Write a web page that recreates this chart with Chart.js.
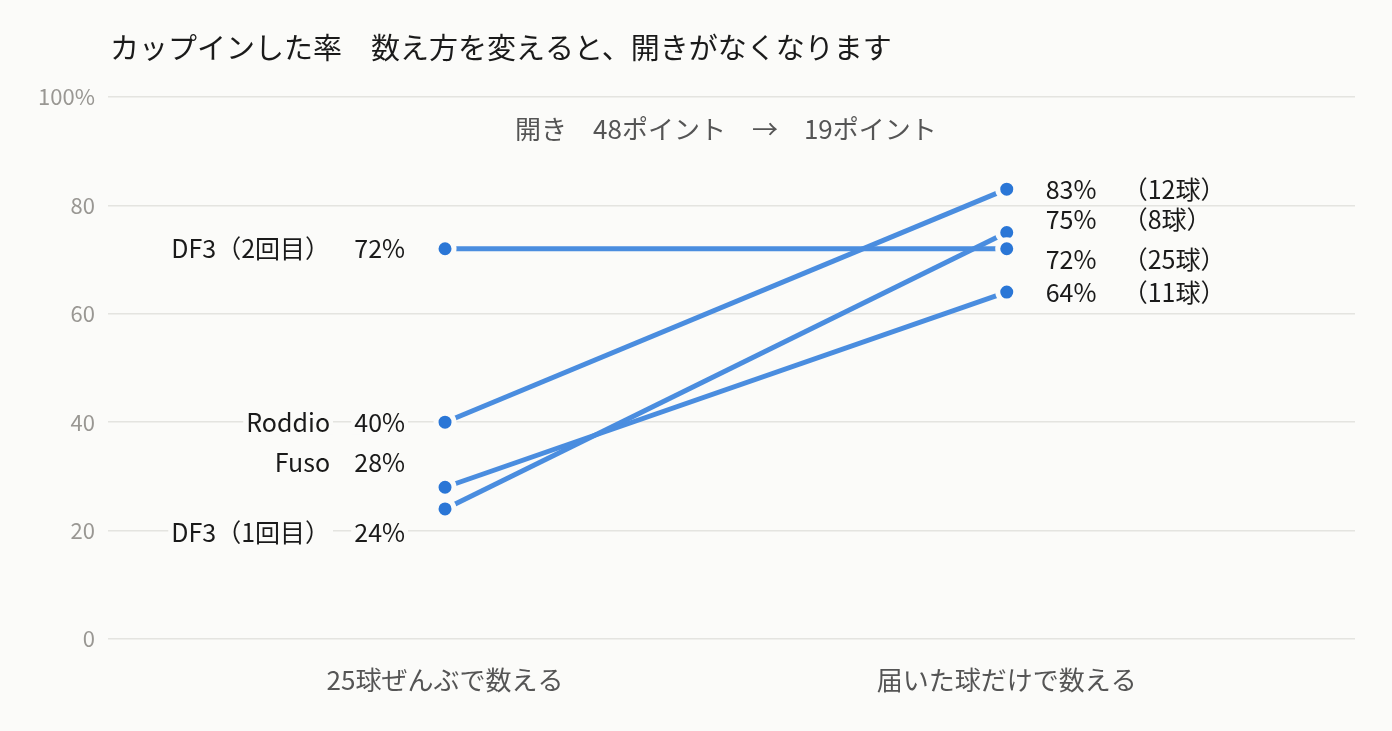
<!DOCTYPE html>
<html>
<head>
<meta charset="utf-8">
<script src="https://cdn.jsdelivr.net/npm/chart.js@4"></script>
<style>
  html, body { margin: 0; padding: 0; background: #fbfbf9; }
  #wrap { width: 1392px; height: 731px; position: relative; }
</style>
</head>
<body>
<div id="wrap"><canvas id="chart"></canvas></div>
<script>
// data
const categories = ['25球ぜんぶで数える', '届いた球だけで数える'];
const clubs = ['DF3（2回目）', 'Roddio', 'Fuso', 'DF3（1回目）'];
const rateAll = [72, 40, 28, 24];
const rateReached = [72, 83, 64, 75];
const ballsReached = [25, 12, 11, 8];
const yTicks = [0, 20, 40, 60, 80, 100];
const titleText = 'カップインした率　数え方を変えると、開きがなくなります';
const gapText = '開き　48ポイント　→　19ポイント';

// label nudges (px) so the texts don't overlap
const leftShift = [0, 0, -25, 24];
const rightShift = [11, 0, 0, -13];

const BG = '#fbfbf9';
const FONT = '"Noto Sans CJK JP", "Noto Sans", sans-serif';

const datasets = clubs.map((name, i) => ({
    label: name,
    data: [{ x: 0, y: rateAll[i] }, { x: 1, y: rateReached[i] }],
    borderColor: '#4a8ddf',
    borderWidth: 5,
    pointRadius: 9,
    pointHoverRadius: 9,
    pointBackgroundColor: '#2a76d6',
    pointBorderColor: BG,
    pointBorderWidth: 5,
    tension: 0
}));

function labelWithBox(ctx, text, x, y, align) {
    ctx.textAlign = align;
    const w = ctx.measureText(text).width;
    const x0 = align === 'right' ? x - w : x;
    ctx.fillStyle = BG;
    ctx.fillRect(x0 - 3, y - 12, w + 6, 24);
    ctx.fillStyle = '#1a1a1a';
    ctx.fillText(text, x, y);
}

const textPlugin = {
    id: 'texts',
    beforeDraw(chart) {
        const ctx = chart.ctx;
        ctx.save();
        ctx.fillStyle = BG;
        ctx.fillRect(0, 0, chart.width, chart.height);
        ctx.restore();
    },
    afterDraw(chart) {
        const ctx = chart.ctx;
        const xs = chart.scales.x, ys = chart.scales.y;
        ctx.save();
        ctx.textBaseline = 'middle';

        // title
        ctx.font = '29px ' + FONT;
        ctx.fillStyle = '#1a1a1a';
        ctx.textAlign = 'left';
        ctx.fillText(titleText, 110, 48);

        // gap note
        ctx.font = '26px ' + FONT;
        ctx.fillStyle = '#555555';
        ctx.textAlign = 'center';
        ctx.fillText(gapText, xs.getPixelForValue(0.5), ys.getPixelForValue(94));

        ctx.font = '25px ' + FONT;
        const xl = xs.getPixelForValue(0);
        const xr = xs.getPixelForValue(1);
        clubs.forEach((name, i) => {
            const yl = ys.getPixelForValue(rateAll[i]) + leftShift[i];
            labelWithBox(ctx, name, xl - 115, yl, 'right');
            labelWithBox(ctx, rateAll[i] + '%', xl - 40, yl, 'right');
            const yr = ys.getPixelForValue(rateReached[i]) + rightShift[i];
            labelWithBox(ctx, rateReached[i] + '%', xr + 39, yr, 'left');
            labelWithBox(ctx, '（' + ballsReached[i] + '球）', xr + 116, yr, 'left');
        });
        ctx.restore();
    }
};

const ctx = document.getElementById('chart').getContext('2d');
new Chart(ctx, {
    type: 'line',
    data: { datasets: datasets },
    options: {
        responsive: true,
        maintainAspectRatio: false,
        animation: false,
        layout: { padding: { top: 97, right: 37, left: 0, bottom: 0 } },
        plugins: {
            legend: { display: false },
            tooltip: { enabled: false }
        },
        scales: {
            x: {
                type: 'linear',
                min: -0.6,
                max: 1.62,
                afterBuildTicks: (scale) => { scale.ticks = [{ value: 0 }, { value: 1 }]; },
                afterFit: (scale) => { scale.height = 92; },
                grid: { display: false },
                border: { display: false },
                ticks: {
                    padding: 18,
                    color: '#555555',
                    font: { family: FONT, size: 26 },
                    callback: (v) => categories[v] ?? ''
                }
            },
            y: {
                min: 0,
                max: 100,
                afterBuildTicks: (scale) => { scale.ticks = yTicks.map(v => ({ value: v })); },
                afterFit: (scale) => { scale.width = 108; },
                grid: { color: '#e4e4e0', lineWidth: 1.5, drawTicks: false },
                border: { display: false },
                ticks: {
                    padding: 13,
                    color: '#999793',
                    font: { family: FONT, size: 22 },
                    callback: (v) => v === 100 ? '100%' : v
                }
            }
        }
    },
    plugins: [textPlugin]
});
</script>
</body>
</html>
